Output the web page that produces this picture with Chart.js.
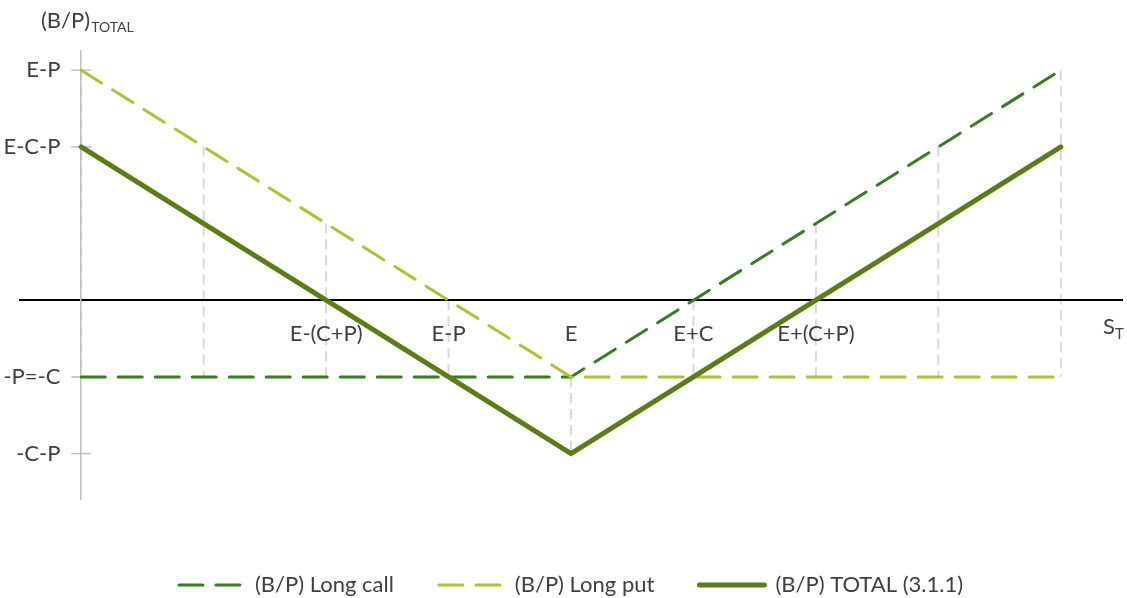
<!DOCTYPE html>
<html>
<head>
<meta charset="utf-8">
<script src="https://cdn.jsdelivr.net/npm/chart.js@4"></script>
<style>
	html, body { margin: 0; padding: 0; background: #fff; }
</style>
</head>
<body>
<canvas id="myChart" width="1127" height="598"></canvas>
<script>
// dados (unidade: C = P = 1, E = 4)
const xValues = [0, 1, 2, 3, 4, 5, 6, 7, 8];
const longCall = [-1, -1, -1, -1, -1, 0, 1, 2, 3];
const longPut = [3, 2, 1, 0, -1, -1, -1, -1, -1];
const total = [2, 1, 0, -1, -2, -1, 0, 1, 2];
const seriesNames = ['(B/P) Long call', '(B/P) Long put', '(B/P) TOTAL (3.1.1)'];
const xTickValues = [2, 3, 4, 5, 6];
const xTickLabels = ['E-(C+P)', 'E-P', 'E', 'E+C', 'E+(C+P)'];
const yTickValues = [3, 2, -1, -2];
const yTickLabels = ['E-P', 'E-C-P', '-P=-C', '-C-P'];

const textColor = '#404040';
const fontFamily = 'Lato, "Liberation Sans", sans-serif';
const axisGrey = '#BFBFBF';

const toPoints = (serie) => xValues.map((x, i) => ({ x: x, y: serie[i] }));

// linhas verticais tracejadas + marcas do eixo y
const guides = {
	id: 'guides',
	beforeDraw(chart) {
		const { ctx } = chart;
		const x = chart.scales.x;
		const y = chart.scales.y;
		ctx.save();
		ctx.strokeStyle = '#D9D9D9';
		ctx.lineWidth = 2;
		ctx.setLineDash([10, 6]);
		xValues.forEach((v, i) => {
			const vals = [longCall[i], longPut[i], total[i]];
			const px = x.getPixelForValue(v);
			ctx.beginPath();
			ctx.moveTo(px, y.getPixelForValue(Math.max(...vals)));
			ctx.lineTo(px, y.getPixelForValue(Math.min(...vals)));
			ctx.stroke();
		});
		ctx.setLineDash([]);
		ctx.strokeStyle = axisGrey;
		ctx.lineWidth = 1.5;
		const ax = x.getPixelForValue(0);
		yTickValues.forEach((v) => {
			const py = y.getPixelForValue(v);
			ctx.beginPath();
			ctx.moveTo(ax - 10, py);
			ctx.lineTo(ax + 10, py);
			ctx.stroke();
		});
		ctx.restore();
	},
	afterDraw(chart) {
		const { ctx } = chart;
		ctx.save();
		ctx.fillStyle = textColor;
		ctx.textBaseline = 'alphabetic';
		ctx.textAlign = 'left';
		// titulo do eixo y
		ctx.font = '22px ' + fontFamily;
		ctx.fillText('(B/P)', 41, 28);
		let w = ctx.measureText('(B/P)').width;
		ctx.font = '14px ' + fontFamily;
		ctx.fillText('TOTAL', 41 + w + 1, 32);
		// titulo do eixo x
		const py = chart.scales.y.getPixelForValue(0);
		ctx.font = '22px ' + fontFamily;
		ctx.fillText('S', 1103, py + 34);
		w = ctx.measureText('S').width;
		ctx.font = '15px ' + fontFamily;
		ctx.fillText('T', 1103 + w, py + 39);
		ctx.restore();
	}
};

const ctx = document.getElementById('myChart').getContext('2d');

const myChart = new Chart(ctx, {
	type: 'line',
	data: {
		datasets: [{
			label: seriesNames[0],
			data: toPoints(longCall),
			borderColor: '#377D22',
			backgroundColor: '#377D22',
			borderWidth: 3,
			borderDash: [24, 13],
			borderCapStyle: 'round',
			pointRadius: 0,
			order: 2
		}, {
			label: seriesNames[1],
			data: toPoints(longPut),
			borderColor: '#AAC432',
			backgroundColor: '#AAC432',
			borderWidth: 3,
			borderDash: [24, 13],
			borderCapStyle: 'round',
			pointRadius: 0,
			order: 1
		}, {
			label: seriesNames[2],
			data: toPoints(total),
			borderColor: '#5C7C16',
			backgroundColor: '#5C7C16',
			borderWidth: 5,
			borderCapStyle: 'round',
			borderJoinStyle: 'miter',
			pointRadius: 0,
			order: 0
		}]
	},
	options: {
		responsive: false,
		animation: false,
		layout: { padding: { left: 20, right: 5, top: 51, bottom: -8 } },
		scales: {
			x: {
				type: 'linear',
				min: -0.5,
				max: 8.5,
				position: { y: 0 },
				grid: { display: false, drawTicks: false },
				border: { color: '#000', width: 2 },
				afterBuildTicks: (scale) => { scale.ticks = xTickValues.map((v) => ({ value: v })); },
				ticks: {
					autoSkip: false,
					maxRotation: 0,
					padding: 20,
					color: textColor,
					font: { family: fontFamily, size: 22 },
					callback: (v) => xTickLabels[xTickValues.indexOf(v)]
				}
			},
			y: {
				type: 'linear',
				min: -2.6,
				max: 3.25,
				position: { x: 0 },
				grid: { display: false, drawTicks: false },
				border: { color: axisGrey, width: 1.5 },
				ticks: { display: false }
			},
			// rótulos do eixo y, um pouco à esquerda do eixo
			yLabels: {
				type: 'linear',
				axis: 'y',
				min: -2.6,
				max: 3.25,
				position: { x: -0.17 },
				grid: { display: false, drawTicks: false },
				border: { display: false },
				afterBuildTicks: (scale) => { scale.ticks = yTickValues.map((v) => ({ value: v })); },
				ticks: {
					autoSkip: false,
					padding: 0,
					color: textColor,
					font: { family: fontFamily, size: 22 },
					callback: (v) => yTickLabels[yTickValues.indexOf(v)]
				}
			}
		},
		plugins: {
			legend: {
				position: 'bottom',
				title: { display: true, text: '', padding: { top: 15, bottom: 0 } },
				labels: {
					usePointStyle: true,
					pointStyle: 'line',
					pointStyleWidth: 65,
					padding: 45,
					color: textColor,
					font: { family: fontFamily, size: 22 },
					sort: (a, b) => a.datasetIndex - b.datasetIndex,
					generateLabels: (chart) => {
						const items = Chart.defaults.plugins.legend.labels.generateLabels(chart);
						return items.map((item) => {
							const ds = chart.data.datasets[item.datasetIndex];
							item.lineDash = ds.borderDash || [];
							item.lineCap = 'round';
							item.lineWidth = ds.borderWidth;
							item.strokeStyle = ds.borderColor;
							return item;
						});
					}
				}
			},
			tooltip: { enabled: false }
		}
	},
	plugins: [guides]
});
</script>
</body>
</html>
